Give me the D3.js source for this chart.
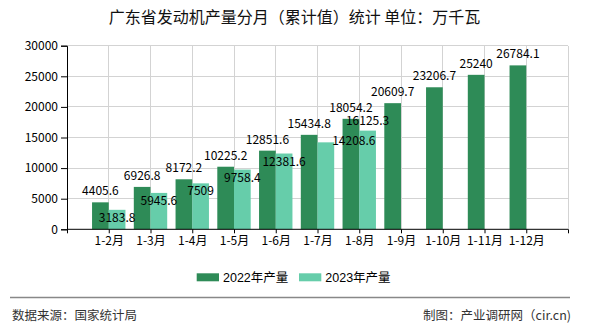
<!DOCTYPE html>
<html><head><meta charset="utf-8">
<script src="https://cdn.jsdelivr.net/npm/d3@7"></script>
<style>
html,body{margin:0;padding:0;background:#fff;}
svg{display:block;font-family:"Noto Sans CJK SC","Noto Sans",sans-serif;}
</style></head>
<body><svg id="c" width="590" height="330"></svg>
<script>
const categories = ["1-2月","1-3月","1-4月","1-5月","1-6月","1-7月","1-8月","1-9月","1-10月","1-11月","1-12月"];
const series2022 = [4405.6,6926.8,8172.2,10225.2,12851.6,15434.8,18054.2,20609.7,23206.7,25240,26784.1];
const series2023 = [3183.8,5945.6,7509,9758.4,12381.6,14208.6,16125.3];
const seriesNames = ["2022年产量","2023年产量"];
const yTicks = [0,5000,10000,15000,20000,25000,30000];
const title = "广东省发动机产量分月（累计值）统计 单位：万千瓦";
const sourceText = "数据来源：国家统计局";
const creditText = "制图：产业调研网（cir.cn)";
const colors = ["#2e8b57","#66cdaa"];

const svg = d3.select("#c");
const L = 67, R = 568, T = 45.7, B = 229.3;

const domain = ["_s", ...categories, "_e"];
const x = d3.scalePoint().domain(domain).range([L, R]);
const step = x.step();
const bw = step * 0.4;
const y = d3.scaleLinear().domain([0, 30000]).range([B, T]);

// title
svg.append("text").attr("x", 294.5).attr("y", 23).attr("text-anchor","middle")
  .attr("font-size", 16).attr("fill","#111").text(title);

// grid
const g = svg.append("g");
g.selectAll(".hg").data(yTicks.slice(1)).join("line")
  .attr("x1", L).attr("x2", R).attr("y1", d=>y(d)).attr("y2", d=>y(d))
  .attr("stroke","#d3d3d3").attr("stroke-width",1).attr("shape-rendering","crispEdges");
g.selectAll(".vg").data(domain.slice(1)).join("line")
  .attr("x1", d=>x(d)).attr("x2", d=>x(d)).attr("y1", T).attr("y2", B)
  .attr("stroke","#d3d3d3").attr("stroke-width",1).attr("shape-rendering","crispEdges");

// bars
const bars = svg.append("g");
bars.selectAll(".b1").data(series2022).join("rect")
  .attr("x", (d,i)=>x(categories[i]) - bw).attr("width", bw)
  .attr("y", d=>y(d)).attr("height", d=>B - y(d)).attr("fill", colors[0]);
bars.selectAll(".b2").data(series2023).join("rect")
  .attr("x", (d,i)=>x(categories[i])).attr("width", bw)
  .attr("y", d=>y(d)).attr("height", d=>B - y(d)).attr("fill", colors[1]);

// axes
const yAxis = d3.axisLeft(y).tickValues(yTicks).tickSize(6).tickPadding(3).tickFormat(d=>String(d));
const ya = svg.append("g").attr("transform", `translate(${L},0)`).call(yAxis);
ya.select(".domain").attr("stroke","#000");
ya.selectAll(".tick line").attr("stroke","#000");
ya.selectAll("text").attr("font-size",12).attr("fill","#000").attr("font-family",'"Noto Sans CJK SC",sans-serif');

const xAxis = d3.axisBottom(x).tickSize(4).tickPadding(3).tickFormat(d=> d.startsWith("_") ? "" : d);
const xa = svg.append("g").attr("transform", `translate(0,${B})`).call(xAxis);
xa.select(".domain").attr("stroke","#000").attr("d", `M${L},0H${R}`);
xa.selectAll(".tick line").attr("stroke","#000");
xa.selectAll("text").attr("font-size",12).attr("fill","#000").attr("font-family",'"Noto Sans CJK SC",sans-serif');

// labels
const lab = svg.append("g").attr("font-size",12).attr("fill","#000").attr("text-anchor","middle");
lab.selectAll(".l1").data(series2022).join("text")
  .attr("x", (d,i)=>x(categories[i]) - bw/2).attr("y", d=>y(d) - 7)
  .text(d=>String(d));
// 2023 labels: placed inside bar top, nudged where they would collide
const nudge = {5:{dx:28, dy:-9.3}, 6:{dx:0, dy:-18}};
lab.selectAll(".l2").data(series2023).join("text")
  .attr("x", (d,i)=>x(categories[i]) + bw/2 + (nudge[i]?nudge[i].dx:0))
  .attr("y", (d,i)=>y(d) + 12 + (nudge[i]?nudge[i].dy:0))
  .text(d=>String(d));

// legend
const lg = svg.append("g");
const lgx = [196.7, 299];
seriesNames.forEach((n,i)=>{
  lg.append("rect").attr("x", lgx[i]).attr("y", 273.3).attr("width", 22.3).attr("height", 8).attr("fill", colors[i]);
  lg.append("text").attr("x", lgx[i]+26.3).attr("y", 282).attr("font-size",12.5).attr("fill","#000")
    .attr("font-family",'"Liberation Sans","Noto Sans CJK SC",sans-serif').text(n);
});

// footer
svg.append("line").attr("x1",10).attr("x2",570).attr("y1",297.5).attr("y2",297.5)
  .attr("stroke","#888").attr("stroke-width",1.5);
svg.append("text").attr("x",12).attr("y",320).attr("font-size",12.5).attr("fill","#333").text(sourceText);
svg.append("text").attr("x",571).attr("y",320).attr("text-anchor","end").attr("font-size",12.5).attr("fill","#333").text(creditText);
</script></body></html>
